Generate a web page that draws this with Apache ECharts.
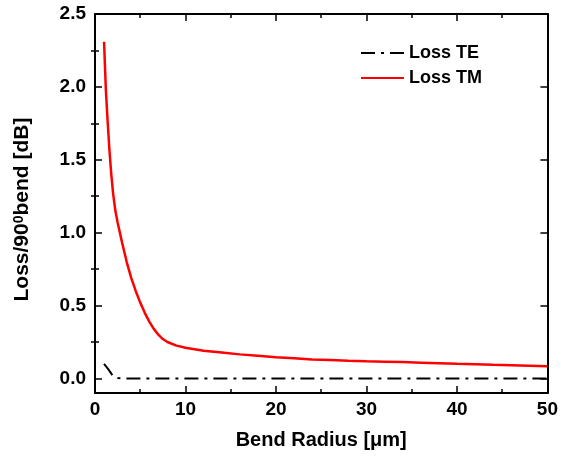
<!DOCTYPE html>
<html>
<head>
<meta charset="utf-8">
<script src="https://cdn.jsdelivr.net/npm/echarts@6/dist/echarts.min.js"></script>
<style>
html,body{margin:0;padding:0;background:#fff;}
#c{width:561px;height:464px;}
</style>
</head>
<body>
<div id="c"></div>
<script>
// Data
const tmRadius = [1, 1.2, 1.4, 1.6, 1.8, 2, 2.25, 2.5, 3, 3.5, 4, 4.5, 5, 5.5, 6, 6.5, 7, 7.5, 8, 9, 10, 11, 12, 14, 16, 18, 20, 22, 24, 26, 28, 30, 32, 34, 36, 38, 40, 42, 44, 46, 48, 50];
const tmLoss   = [2.31, 1.98, 1.76, 1.56, 1.40, 1.27, 1.15, 1.07, 0.93, 0.80, 0.69, 0.60, 0.52, 0.45, 0.39, 0.34, 0.30, 0.27, 0.25, 0.225, 0.21, 0.20, 0.19, 0.178, 0.165, 0.155, 0.145, 0.138, 0.13, 0.126, 0.121, 0.117, 0.115, 0.112, 0.108, 0.104, 0.10, 0.097, 0.093, 0.09, 0.087, 0.084];
const teRadius = [1, 1.5, 2, 2.5, 3, 5, 10, 15, 20, 25, 30, 35, 40, 45, 50];
const teLoss   = [0.1, 0.06, 0.015, 0.003, 0, 0, 0, 0, 0, 0, 0, 0, 0, 0, 0];
const yMajorTicks = [0, 0.5, 1.0, 1.5, 2.0, 2.5];
const yMinorTicks = [0.25, 0.75, 1.25, 1.75, 2.25];
const seriesNames = ['Loss TE', 'Loss TM'];

const FONT = '"Liberation Sans", Arial, sans-serif';
const toPairs = (xs, ys) => xs.map((x, i) => [x, ys[i]]);

const chart = echarts.init(document.getElementById('c'), null, {renderer: 'canvas'});

const xBase = {
  type: 'value', min: 0, max: 50, interval: 10,
  axisLine: {show: true, onZero: false, lineStyle: {color: '#000', width: 2}},
  axisTick: {show: true, inside: true, length: 7, lineStyle: {color: '#000', width: 1.5}},
  minorTick: {show: true, splitNumber: 2, length: 4, lineStyle: {color: '#000', width: 1.5}},
  splitLine: {show: false}
};
const yBase = {
  type: 'value', min: -0.1, max: 2.5,
  splitLine: {show: false}
};

chart.setOption({
  animation: false,
  backgroundColor: '#fff',
  grid: {left: 95, right: 12, top: 14, bottom: 71, containLabel: false},
  legend: {
    orient: 'vertical', left: 355, top: 39,
    itemWidth: 43, itemHeight: 17, itemGap: 7,
    data: seriesNames,
    itemStyle: {color: 'rgba(0,0,0,0)', borderWidth: 0, opacity: 0},
    textStyle: {fontFamily: FONT, fontWeight: 'bold', fontSize: 18, color: '#000'}
  },
  xAxis: [
    Object.assign({}, xBase, {
      position: 'bottom',
      name: 'Bend Radius [\u03bcm]', nameLocation: 'middle', nameGap: 37,
      nameTextStyle: {fontFamily: FONT, fontWeight: 'bold', fontSize: 20, color: '#000'},
      axisLabel: {show: true, margin: 7, fontFamily: FONT, fontWeight: 'bold', fontSize: 19, color: '#000'}
    }),
    Object.assign({}, xBase, {position: 'top', axisLabel: {show: false}})
  ],
  yAxis: [
    Object.assign({}, yBase, {
      position: 'left',
      axisLine: {show: true, onZero: false, lineStyle: {color: '#000', width: 2}},
      axisTick: {show: true, inside: true, length: 7, customValues: yMajorTicks, lineStyle: {color: '#000', width: 1.5}},
      axisLabel: {show: true, margin: 9, customValues: yMajorTicks, formatter: v => v.toFixed(1),
        fontFamily: FONT, fontWeight: 'bold', fontSize: 19, color: '#000'},
      name: 'Loss/90{sup|0}bend [dB]', nameLocation: 'middle', nameGap: 62, nameRotate: 90,
      nameTextStyle: {fontFamily: FONT, fontWeight: 'bold', fontSize: 21, color: '#000', padding: [0, 12, 0, 0],
        rich: {sup: {fontFamily: FONT, fontWeight: 'bold', fontSize: 14, color: '#000', verticalAlign: 'top', lineHeight: 14}}}
    }),
    Object.assign({}, yBase, {
      position: 'left',
      axisLine: {show: false},
      axisTick: {show: true, inside: true, length: 4, customValues: yMinorTicks, lineStyle: {color: '#000', width: 1.5}},
      axisLabel: {show: false}
    }),
    Object.assign({}, yBase, {
      position: 'right',
      axisLine: {show: true, onZero: false, lineStyle: {color: '#000', width: 2}},
      axisTick: {show: true, inside: true, length: 7, customValues: yMajorTicks, lineStyle: {color: '#000', width: 1.5}},
      axisLabel: {show: false}
    }),
    Object.assign({}, yBase, {
      position: 'right',
      axisLine: {show: false},
      axisTick: {show: true, inside: true, length: 4, customValues: yMinorTicks, lineStyle: {color: '#000', width: 1.5}},
      axisLabel: {show: false}
    })
  ],
  series: [
    {
      name: seriesNames[0], type: 'line', xAxisIndex: 0, yAxisIndex: 0,
      data: toPairs(teRadius, teLoss), showSymbol: false, symbol: 'none',
      itemStyle: {color: '#000'},
      lineStyle: {color: '#000', width: 2, type: [14, 6, 3, 6]}
    },
    {
      name: seriesNames[1], type: 'line', xAxisIndex: 0, yAxisIndex: 0,
      data: toPairs(tmRadius, tmLoss), showSymbol: false, symbol: 'none',
      itemStyle: {color: '#ff0000'},
      lineStyle: {color: '#ff0000', width: 2.5}
    }
  ]
});
</script>
</body>
</html>
